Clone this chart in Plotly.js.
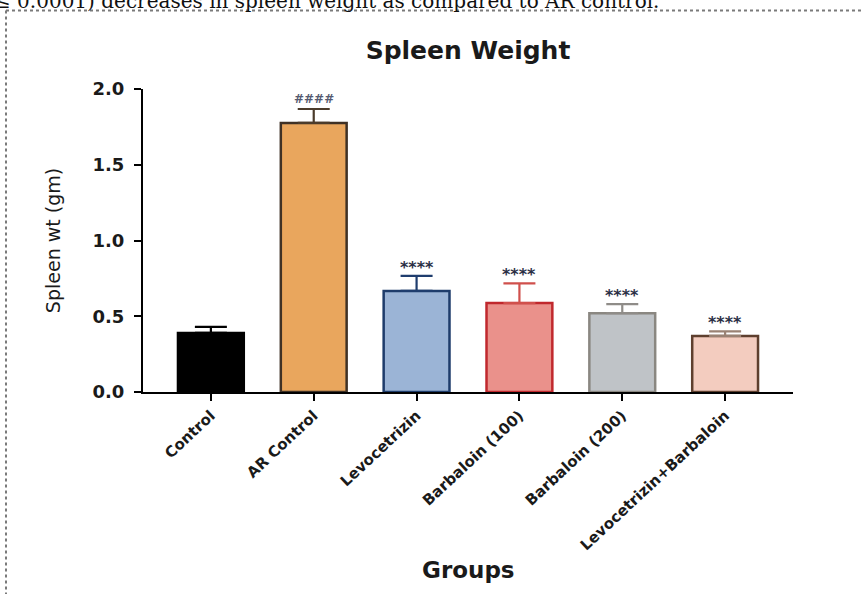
<!DOCTYPE html>
<html>
<head>
<meta charset="utf-8">
<script src="https://cdn.plot.ly/plotly-3.0.1.min.js"></script>
<style>
  html, body { margin: 0; padding: 0; background: #ffffff; }
  #chart { width: 862px; height: 594px; }
</style>
</head>
<body>
<div id="chart"></div>
<script>
// ---- data ----
const groups = ["Control", "AR Control", "Levocetrizin", "Barbaloin (100)", "Barbaloin (200)", "Levocetrizin+Barbaloin"];
const meanWeight = [0.39, 1.776, 0.667, 0.587, 0.52, 0.37];
const semWeight = [0.04, 0.092, 0.099, 0.13, 0.06, 0.03];
const significance = ["", "####", "****", "****", "****", "****"];
const yTickValues = [0.0, 0.5, 1.0, 1.5, 2.0];
const yTickLabels = ["0.0", "0.5", "1.0", "1.5", "2.0"];
const chartTitle = "Spleen Weight";
const yTitle = "Spleen wt (gm)";
const xTitle = "Groups";
const captionText = "≤ 0.0001) decreases in spleen weight as compared to AR control.";

// ---- styles ----
const fillColors = ["#000000", "#E9A65D", "#9BB4D6", "#EA918B", "#BFC3C7", "#F3CCBF"];
const lineColors = ["#000000", "#3f3125", "#1e3c6b", "#c0282d", "#8a8781", "#5e3f2e"];
const errColors  = ["#000000", "#4b3b2b", "#1f3d6e", "#d0504c", "#8f8c88", "#9a8274"];
const sigColors  = ["#000000", "#555a70", "#2b2f45", "#2b2f45", "#2b2f45", "#2b2f45"];

const L = 143, R = 69, T = 89, B = 202;
const W = 862, H = 594;
const plotW = W - L - R, plotH = H - T - B;
const px2xp = px => (px - L) / plotW;
const py2yp = py => (H - B - py) / plotH;

const boldFont = "DejaVu Sans, Arial, sans-serif";

const traces = groups.map((g, i) => ({
  type: "bar",
  x: [g],
  y: [meanWeight[i]],
  width: 0.64,
  marker: { color: fillColors[i], line: { color: lineColors[i], width: 2.5 } },
  error_y: {
    type: "data",
    symmetric: false,
    array: [semWeight[i]],
    arrayminus: [0],
    color: errColors[i],
    thickness: 2.2,
    width: 16
  },
  showlegend: false,
  hoverinfo: "x+y"
}));

const annotations = groups.map((g, i) => ({
  x: g, y: meanWeight[i] + semWeight[i],
  xref: "x", yref: "y",
  text: significance[i],
  showarrow: false,
  yanchor: "bottom",
  yshift: i === 1 ? 1 : -3,
  font: { family: boldFont, size: i === 1 ? 12 : 16, color: sigColors[i], weight: "bold" }
})).filter(a => a.text !== "");

annotations.push({
  xref: "paper", yref: "paper",
  x: 0.5, y: py2yp(570),
  xanchor: "center", yanchor: "middle",
  text: xTitle, showarrow: false,
  font: { family: boldFont, size: 23, color: "#1a1a1a", weight: "bold" }
});

annotations.push({
  xref: "paper", yref: "paper",
  x: px2xp(-8), y: py2yp(15),
  xanchor: "left", yanchor: "bottom",
  text: captionText, showarrow: false,
  font: { family: "DejaVu Serif, serif", size: 20, color: "#111111" }
});

const shapes = [
  { type: "line", xref: "paper", yref: "paper",
    x0: px2xp(6), x1: px2xp(870), y0: py2yp(10.5), y1: py2yp(10.5),
    line: { color: "#7a7a7a", width: 2, dash: "dot" } },
  { type: "line", xref: "paper", yref: "paper",
    x0: px2xp(6), x1: px2xp(6), y0: py2yp(10.5), y1: py2yp(600),
    line: { color: "#7a7a7a", width: 2, dash: "dot" } }
];

const layout = {
  width: W, height: H,
  margin: { l: L, r: R, t: T, b: B, pad: 0 },
  paper_bgcolor: "#ffffff",
  plot_bgcolor: "#ffffff",
  barmode: "overlay",
  title: {
    text: chartTitle,
    x: 0.5, xref: "paper", xanchor: "center",
    y: 1 - 50 / H, yref: "container", yanchor: "middle",
    font: { family: boldFont, size: 25, color: "#1a1a1a", weight: "bold" }
  },
  xaxis: {
    type: "category",
    range: [-0.66, 5.66],
    showline: true, linecolor: "#000000", linewidth: 2,
    ticks: "outside", ticklen: 7, tickwidth: 2, tickcolor: "#000000",
    tickangle: -43,
    tickfont: { family: boldFont, size: 15, color: "#1a1a1a", weight: "bold" },
    showgrid: false, zeroline: false, fixedrange: true
  },
  yaxis: {
    range: [0, 2],
    tickvals: yTickValues, ticktext: yTickLabels,
    showline: true, linecolor: "#000000", linewidth: 2,
    ticks: "outside", ticklen: 7, tickwidth: 2, tickcolor: "#000000",
    ticklabelstandoff: 6,
    tickfont: { family: boldFont, size: 18, color: "#1a1a1a", weight: "bold" },
    title: { text: yTitle, standoff: 27, font: { family: "DejaVu Sans, Arial, sans-serif", size: 19, color: "#1a1a1a" } },
    showgrid: false, zeroline: false, fixedrange: true
  },
  annotations: annotations,
  shapes: shapes
};

Plotly.newPlot("chart", traces, layout, { displayModeBar: false, staticPlot: true });
</script>
</body>
</html>
